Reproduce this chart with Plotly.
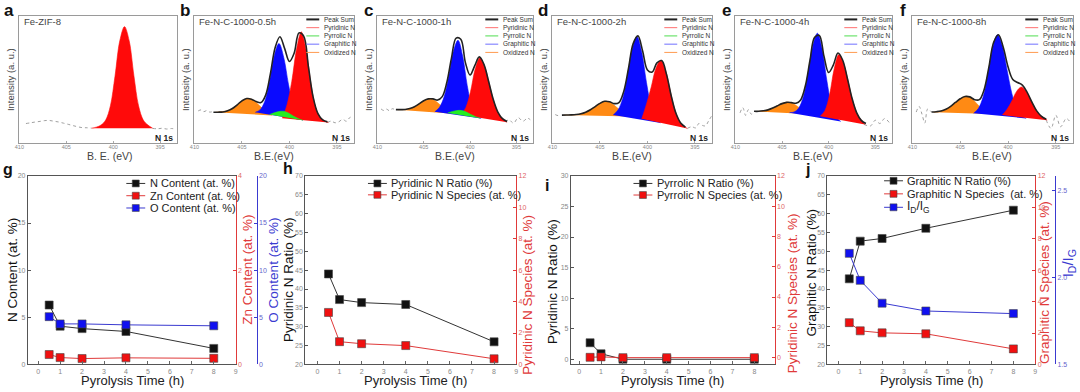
import plotly.graph_objects as go

FONT = "Liberation Sans, Arial, sans-serif"
W, H = 1080, 392

# ====================== XPS N 1s spectra (binding energy eV, intensity a.u.) ======================
a_raw_left_be = [409.3, 408.8, 408.3, 407.8, 407.3, 406.8, 406.3, 405.8, 405.3, 404.8, 404.3, 403.8, 403.3, 402.8, 402.3]
a_raw_left_int = [15.6, 16.2, 16.8, 17.3, 17.9, 18.0, 17.4, 16.8, 15.9, 15.0, 14.0, 13.1, 12.4, 12.3, 12.0]
a_raw_right_be = [395.8, 395.3, 394.8, 394.3, 393.8, 393.4]
a_raw_right_int = [11.8, 11.5, 11.9, 11.3, 11.7, 11.4]
a_pyri_be = [402.3, 401.8, 401.3, 400.8, 400.3, 399.8, 399.3, 398.8, 398.3, 397.8, 397.3, 396.8, 396.3, 395.8]
a_pyri_int = [12.0, 12.8, 14.4, 18.4, 29.5, 53.3, 80.4, 91.5, 80.4, 53.3, 29.5, 18.4, 14.4, 12.0]

oxi_be = [407.8, 407.3, 406.8, 406.3, 405.8, 405.3, 404.8, 404.3, 403.8, 403.3, 402.8, 402.3, 401.8]
sum_be_408 = [408.0, 407.5, 407.0, 406.5, 406.0, 405.5, 405.0, 404.5, 404.0, 403.5, 403.0, 402.5, 402.0,
              401.5, 401.0, 400.5, 400.0, 399.5, 399.0, 398.5, 398.0, 397.5, 397.0, 396.5, 396.0]
sum_be_409 = [409.0, 408.5] + sum_be_408

b_raw_left_be = [409.6, 409.3, 409.0, 408.7, 408.4, 408.1]
b_raw_left_int = [25.5, 26.3, 24.9, 25.8, 24.6, 24.9]
b_raw_right_be = [396.0, 395.6, 395.2, 394.8, 394.4, 394.0, 393.6, 393.3]
b_raw_right_int = [16.4, 17.5, 16.2, 17.0, 18.9, 17.4, 20.5, 19.6]
b_oxi_int = [24.4, 24.8, 25.2, 26.1, 28.4, 31.5, 34.3, 35.3, 33.9, 30.7, 27.2, 24.5, 22.0]
b_gra_be = [403.6, 403.1, 402.6, 402.1, 401.6, 401.1, 400.6, 400.1, 399.6, 399.1, 398.6]
b_gra_int = [24.4, 26.3, 32.9, 48.8, 68.6, 78.3, 67.4, 46.3, 29.1, 21.3, 18.2]
b_pyri_be = [400.75, 400.25, 399.75, 399.25, 398.75, 398.25, 397.75, 397.25, 396.75, 396.25, 395.9]
b_pyri_int = [19.8, 30.4, 48.7, 73.9, 87.4, 73.2, 47.4, 28.3, 20.4, 17.6, 16.4]
b_pyrr_be = [402.1, 401.6, 401.1, 400.6, 400.1, 399.6, 399.1, 398.6]
b_pyrr_int = [22.6, 24.0, 25.0, 25.2, 23.8, 21.5, 19.6, 18.2]
b_sum_int = [24.5, 24.5, 24.7, 25.6, 27.4, 30.3, 33.4, 35.2, 34.7, 32.8, 32.0, 37.9, 54.7,
             75.2, 83.6, 74.3, 64.2, 70.8, 86.6, 84.1, 59.9, 36.1, 23.3, 18.4, 16.9]

c_raw_left_be = [409.6, 409.3, 409.0, 408.7, 408.4, 408.1]
c_raw_left_int = [27.0, 25.8, 26.9, 25.6, 27.2, 26.5]
c_raw_right_be = [396.2, 395.8, 395.3, 394.8, 394.3, 393.8, 393.5]
c_raw_right_int = [16.9, 18.5, 15.9, 20.2, 17.4, 19.8, 18.6]
c_oxi_int = [26.4, 26.5, 26.8, 27.7, 29.5, 32.0, 34.2, 35.0, 33.6, 30.7, 27.5, 25.2, 23.3]
c_gra_be = [403.8, 403.3, 402.8, 402.3, 401.8, 401.3, 400.8, 400.3, 399.8, 399.3, 398.8]
c_gra_int = [24.8, 28.3, 36.5, 52.8, 72.0, 80.8, 68.5, 45.3, 28.6, 21.8, 19.6]
c_pyri_be = [400.95, 400.45, 399.95, 399.45, 398.95, 398.45, 397.95, 397.45, 396.95, 396.45, 396.0]
c_pyri_int = [22.5, 28.2, 40.5, 58.1, 66.9, 60.7, 47.4, 33.1, 23.8, 19.1, 16.6]
c_pyrr_be = [402.4, 401.9, 401.4, 400.9, 400.4, 399.9, 399.4, 398.9]
c_pyrr_int = [23.9, 25.0, 25.8, 25.8, 24.6, 22.6, 21.0, 19.7]
c_sum_int = [26.5, 26.5, 26.6, 27.3, 28.7, 31.0, 33.5, 34.9, 34.9, 34.0, 36.7, 48.0, 67.0,
             82.5, 81.6, 63.3, 53.6, 60.7, 67.8, 62.0, 48.7, 34.6, 24.6, 19.4, 17.2]

d_raw_left_be = [409.7, 409.4, 409.1]
d_raw_left_int = [22.6, 21.8, 22.2]
d_raw_right_be = [395.8, 395.35, 394.9, 394.6, 394.2, 393.9, 393.5, 393.2]
d_raw_right_int = [11.8, 13.1, 12.2, 15.6, 14.1, 13.8, 18.5, 22.1]
d_oxi_be = [408.8, 408.3] + oxi_be
d_oxi_int = [22.2, 22.3, 22.4, 22.8, 23.6, 25.1, 27.4, 30.0, 32.3, 33.0, 31.6, 28.7, 25.5, 23.3, 21.1]
d_gra_be = [403.6, 403.1, 402.6, 402.1, 401.6, 401.1, 400.6, 400.1, 399.6, 399.1, 398.6]
d_gra_int = [22.3, 26.2, 35.3, 53.4, 74.1, 83.6, 71.4, 47.7, 28.5, 19.7, 16.1]
d_pyri_be = [400.6, 400.1, 399.6, 399.1, 398.6, 398.1, 397.6, 397.1, 396.6, 396.1, 395.8]
d_pyri_int = [19.3, 30.8, 44.2, 59.0, 65.1, 57.4, 41.0, 26.0, 17.1, 13.2, 11.7]
d_sum_int = [22.2, 22.3, 22.4, 22.7, 23.3, 24.5, 26.4, 28.9, 31.4, 33.0, 32.7, 31.2, 32.0, 40.6,
             58.5, 78.2, 84.3, 72.2, 57.6, 55.9, 63.1, 64.9, 54.3, 37.4, 23.6, 16.0, 12.8]

e_raw_left_be = [409.5, 409.2, 408.9, 408.6, 408.3, 407.9]
e_raw_left_int = [24.0, 28.0, 22.0, 26.5, 23.0, 25.1]
e_raw_right_be = [396.2, 395.5, 395.0, 394.5, 394.0, 393.5]
e_raw_right_int = [14.9, 13.8, 18.2, 15.6, 19.5, 16.4]
e_oxi_int = [25.0, 25.3, 25.7, 26.7, 28.3, 30.2, 31.8, 32.3, 31.1, 28.8, 26.2, 24.4, 22.8]
e_gra_be = [404.2, 403.7, 403.2, 402.7, 402.2, 401.7, 401.2, 400.7, 400.2, 399.7, 399.2, 398.7]
e_gra_int = [24.1, 24.7, 27.8, 36.9, 55.2, 76.5, 86.3, 73.9, 49.7, 30.1, 21.0, 17.3]
e_pyri_be = [400.9, 400.4, 399.9, 399.4, 398.9, 398.4, 397.9, 397.4, 396.9, 396.4, 396.1]
e_pyri_int = [21.4, 25.7, 38.1, 58.5, 69.6, 62.9, 48.3, 32.7, 22.6, 17.4, 14.9]
e_sum_int = [25.2, 25.2, 25.6, 26.3, 27.7, 29.5, 31.2, 32.2, 32.0, 31.5, 34.1, 45.0, 65.0,
             83.1, 84.6, 68.4, 55.6, 61.4, 70.8, 65.4, 51.3, 35.6, 24.2, 18.1, 15.6]

f_raw_left_be = [409.6, 409.3, 409.0, 408.7, 408.4, 408.0]
f_raw_left_int = [24.6, 29.0, 23.0, 16.0, 27.0, 24.6]
f_raw_right_be = [396.0, 395.5, 395.0, 394.5, 393.9, 393.4]
f_raw_right_int = [18.2, 11.8, 22.1, 13.1, 19.5, 15.6]
f_oxi_int = [24.5, 25.0, 25.8, 27.6, 30.2, 33.3, 36.0, 36.9, 35.2, 31.5, 27.6, 25.0, 23.0]
f_gra_be = [403.6, 403.1, 402.6, 402.1, 401.6, 401.1, 400.6, 400.1, 399.6, 399.1, 398.6, 398.1]
f_gra_int = [23.7, 27.4, 36.5, 54.4, 75.4, 85.2, 76.6, 57.6, 39.2, 27.5, 22.0, 19.6]
f_pyri_be = [400.6, 400.1, 399.6, 399.1, 398.6, 398.1, 397.6, 397.1, 396.6, 396.1, 395.9]
f_pyri_int = [22.2, 26.8, 33.2, 40.8, 44.2, 40.8, 33.9, 26.6, 21.9, 19.4, 18.2]
f_sum_int = [24.7, 24.9, 25.4, 26.8, 29.1, 32.1, 35.0, 36.8, 36.5, 34.3, 34.3, 42.1, 59.8,
             79.3, 85.1, 75.4, 60.1, 50.1, 47.8, 45.7, 40.0, 32.4, 25.5, 21.2, 19.0]

xps_ticks = [410, 405, 400, 395]
xps_legend_labels = ["Peak Sum", "Pyridinic N", "Pyrrolic N", "Graphitic N", "Oxidized N"]

# ====================== composition vs pyrolysis time ======================
time_h = [0.5, 1, 2, 4, 8]
g_N = [6.3, 4.06, 3.8, 3.5, 1.7]
g_Zn = [0.21, 0.146, 0.125, 0.14, 0.13]
g_O = [5.07, 4.3, 4.3, 4.2, 4.1]
h_ratio = [44.0, 37.2, 36.4, 35.9, 26.0]
h_species = [3.31, 1.45, 1.32, 1.20, 0.36]
i_ratio = [2.7, 0.9, 0.0, 0.0, 0.0]
i_species = [0.02, 0.05, 0.0, 0.0, 0.0]
j_ratio = [42.7, 52.7, 53.4, 56.1, 60.9]
j_species = [2.66, 2.14, 2.01, 1.95, 0.99]
j_idig = [2.138, 1.983, 1.852, 1.807, 1.792]
time_ticks = [0, 1, 2, 3, 4, 5, 6, 7, 8, 9]

# ====================== styling ======================
FILL = {"oxi": "#ff8a14", "gra": "#0a0aff", "pyrr": "#22ee22", "pyri": "#ff0a0a"}
LEG_COL = ["#222222", "#ff7070", "#50dd50", "#7070ff", "#ff9a50"]
RED, BLUE = "#e03a3a", "#3a3ad0"


def P(px):
    return px / W


def Q(py):
    return 1 - py / H


def ax_name(kind, n):
    return kind if n == 1 else f"{kind}{n}"


def ref(kind, n):
    return kind if n == 1 else f"{kind}{n}"


fig = go.Figure()
layout = dict(width=W, height=H, margin=dict(l=0, r=0, t=0, b=0), paper_bgcolor="white",
              plot_bgcolor="white", showlegend=False, font=dict(family=FONT))
annotations, shapes = [], []


def ann(text, x, y, size, color="#222", xanchor="center", yanchor="middle", angle=0):
    annotations.append(dict(text=text, x=P(x), y=Q(y), xref="paper", yref="paper", showarrow=False,
                            font=dict(size=size, color=color, family=FONT), xanchor=xanchor,
                            yanchor=yanchor, textangle=angle))


xps_panels = [
    dict(letter="a", title="Fe-ZIF-8", xlabel="B. E. (eV)", L=15, R=174, xl=107,
         raw=[(a_raw_left_be, a_raw_left_int), (a_raw_right_be, a_raw_right_int)],
         peaks=[("pyri", a_pyri_be, a_pyri_int)], total=None, legend=False),
    dict(letter="b", title="Fe-N-C-1000-0.5h", xlabel="B.E.(eV)", L=191, R=352, xl=None,
         raw=[(b_raw_left_be, b_raw_left_int), (b_raw_right_be, b_raw_right_int)],
         peaks=[("oxi", oxi_be, b_oxi_int), ("gra", b_gra_be, b_gra_int), ("pyri", b_pyri_be, b_pyri_int),
                ("pyrr", b_pyrr_be, b_pyrr_int)], total=(sum_be_408, b_sum_int), legend=True),
    dict(letter="c", title="Fe-N-C-1000-1h", xlabel="B.E.(eV)", L=375, R=532, xl=None,
         raw=[(c_raw_left_be, c_raw_left_int), (c_raw_right_be, c_raw_right_int)],
         peaks=[("oxi", oxi_be, c_oxi_int), ("gra", c_gra_be, c_gra_int), ("pyri", c_pyri_be, c_pyri_int),
                ("pyrr", c_pyrr_be, c_pyrr_int)], total=(sum_be_408, c_sum_int), legend=True),
    dict(letter="d", title="Fe-N-C-1000-2h", xlabel="B.E.(eV)", L=551, R=712, xl=None,
         raw=[(d_raw_left_be, d_raw_left_int), (d_raw_right_be, d_raw_right_int)],
         peaks=[("oxi", d_oxi_be, d_oxi_int), ("gra", d_gra_be, d_gra_int), ("pyri", d_pyri_be, d_pyri_int)],
         total=(sum_be_409, d_sum_int), legend=True),
    dict(letter="e", title="Fe-N-C-1000-4h", xlabel="B.E.(eV)", L=735, R=893, xl=None,
         raw=[(e_raw_left_be, e_raw_left_int), (e_raw_right_be, e_raw_right_int)],
         peaks=[("oxi", oxi_be, e_oxi_int), ("gra", e_gra_be, e_gra_int), ("pyri", e_pyri_be, e_pyri_int)],
         total=(sum_be_408, e_sum_int), legend=True),
    dict(letter="f", title="Fe-N-C-1000-8h", xlabel="B.E.(eV)", L=913, R=1075, xl=None,
         raw=[(f_raw_left_be, f_raw_left_int), (f_raw_right_be, f_raw_right_int)],
         peaks=[("oxi", oxi_be, f_oxi_int), ("gra", f_gra_be, f_gra_int), ("pyri", f_pyri_be, f_pyri_int)],
         total=(sum_be_408, f_sum_int), legend=True),
]

TOP, BOT = 12, 142
for n, pnl in enumerate(xps_panels, start=1):
    xr, yr = ref("x", n), ref("y", n)
    L, R = pnl["L"], pnl["R"]
    layout[ax_name("xaxis", n)] = dict(domain=[P(L), P(R)], range=[410.05, 393.2], anchor=yr,
                                       showgrid=False, zeroline=False, showline=True, mirror=True,
                                       linecolor="#9a9a9a", linewidth=1, tickvals=xps_ticks,
                                       ticks="inside", ticklen=2, tickcolor="#aaa", ticklabelstandoff=-2,
                                       tickfont=dict(size=5.5, color="#888", family=FONT))
    layout[ax_name("yaxis", n)] = dict(domain=[Q(BOT), Q(TOP)], range=[0, 100], anchor=xr,
                                       showgrid=False, zeroline=False, showline=True, mirror=True,
                                       linecolor="#9a9a9a", linewidth=1, showticklabels=False, ticks="")
    for be, it in pnl["raw"]:
        fig.add_trace(go.Scatter(x=be, y=it, xaxis=xr, yaxis=yr, mode="lines", hoverinfo="skip",
                                 line=dict(color="#a0a0a0", width=1, dash="dot", shape="spline")))
    for kind, be, it in pnl["peaks"]:
        fig.add_trace(go.Scatter(x=be, y=it, xaxis=xr, yaxis=yr, mode="lines", fill="toself",
                                 fillcolor=FILL[kind], hoverinfo="skip",
                                 line=dict(color=FILL[kind], width=0.6, shape="spline")))
    if pnl["total"] is not None:
        be, it = pnl["total"]
        fig.add_trace(go.Scatter(x=be, y=it, xaxis=xr, yaxis=yr, mode="lines", hoverinfo="skip",
                                 line=dict(color="#222", width=1.6, shape="spline")))
    # texts
    ann(f"<b>{pnl['letter']}</b>", L - 10 if n == 1 else L - 8.5, 6.5, 17, "#111")
    ann(pnl["title"], L + 3, 17.5, 9.5, "#444", xanchor="left")
    ann("<b>N 1s</b>", R - 2, 136.5, 8.5, "#222", xanchor="right")
    ann(pnl["xlabel"], pnl["xl"] if pnl["xl"] else (L + R) / 2, 154.5, 10.5, "#444")
    ann("Intensity (a. u.)", L - 8.5, 77, 9.5, "#444", angle=-90)
    if pnl["legend"]:
        for k, lab in enumerate(xps_legend_labels):
            yy = 15.7 + 8.4 * k
            shapes.append(dict(type="line", xref="paper", yref="paper", x0=P(R - 48), x1=P(R - 35),
                               y0=Q(yy), y1=Q(yy), line=dict(color=LEG_COL[k], width=2 if k == 0 else 1)))
            ann(lab, R - 32.5, yy, 6.5, "#333", xanchor="left")

# bottom row
BT, BB = 175, 367
bottom_panels = [
    dict(letter="g", lpos=(4.5, 168), L=24, R=233, xrng=[-0.47, 9], xt=129,
         axes=[dict(range=[0, 20], dtick=5, color="#555", tcol="#888", title="N Content (at. %)", tx=8, ty=271),
               dict(range=[0, 4], dtick=2, color=RED, tcol="#e06666", title="Zn Content (at. %)", tx=245, ty=271, pos=None),
               dict(range=[0, 20], dtick=5, color=BLUE, tcol="#6666cc", title="O Content (at. %)", tx=271, ty=271, pos=254)],
         series=[(g_N, 0, "#111111", "#333333"), (g_Zn, 1, "#f01010", RED), (g_O, 2, "#1010f0", BLUE)],
         legend=dict(x0=123, ys=[182.7, 195.2, 207.7],
                     labels=["N Content (at. %)", "Zn Content (at. %)", "O Content (at. %)"])),
    dict(letter="h", lpos=(286, 167), L=303, R=515, xrng=[-0.55, 9], xt=414,
         axes=[dict(range=[20, 70], dtick=5, color="#555", tcol="#888", title="Pyridinic N Ratio (%)", tx=285.5, ty=280),
               dict(range=[0, 12], dtick=2, color=RED, tcol="#e06666", title="Pyridinic N Species (at. %)", tx=527, ty=296, pos=None)],
         series=[(h_ratio, 0, "#111111", "#333333"), (h_species, 1, "#f01010", RED)],
         legend=dict(x0=366, ys=[182.7, 194.3],
                     labels=["Pyridinic N Ratio (%)", "Pyridinic N Species (at. %)"])),
    dict(letter="i", lpos=(545.7, 185), L=570, R=775, xrng=[-0.38, 8.93], xt=672,
         axes=[dict(range=[-0.85, 30], dtick=5, color="#555", tcol="#888", title="Pyridinic N Ratio (%)", tx=552, ty=282),
               dict(range=[-0.45, 12], dtick=2, color=RED, tcol="#e06666", title="Pyridinic N Species (at. %)", tx=793, ty=295, pos=None)],
         series=[(i_ratio, 0, "#111111", "#333333"), (i_species, 1, "#f01010", RED)],
         legend=dict(x0=633, ys=[182.7, 194.5],
                     labels=["Pyrrolic N Ratio (%)", "Pyrrolic N Species (at. %)"])),
    dict(letter="j", lpos=(808, 169), L=828, R=1037, xrng=[-0.5, 9], xt=933,
         axes=[dict(range=[20, 70], dtick=5, color="#555", tcol="#888", title="Graphitic N Ratio (%)", tx=812, ty=273),
               dict(range=[0, 12], dtick=2, color=RED, tcol="#e06666", title="Graphitic N Species (at. %)", tx=1047, ty=284, pos=None),
               dict(range=[1.5, 2.583], dtick=0.5, color=BLUE, tcol="#6666cc", title="I<sub>D</sub>/I<sub>G</sub>", tx=1070, ty=264, pos=1057)],
         series=[(j_ratio, 0, "#111111", "#333333"), (j_species, 1, "#f01010", RED), (j_idig, 2, "#1010f0", BLUE)],
         legend=dict(x0=885, ys=[180, 193.3, 207],
                     labels=["Graphitic N Ratio (%)", "Graphitic N Species  (at. %)", "I<sub>D</sub>/I<sub>G</sub>"])),
]

xn, yn = 7, 7
for pnl in bottom_panels:
    xr = ref("x", xn)
    L, R = pnl["L"], pnl["R"]
    base_y = yn
    layout[ax_name("xaxis", xn)] = dict(domain=[P(L), P(R)], range=pnl["xrng"], anchor=ref("y", base_y),
                                        showgrid=False, zeroline=False, showline=True, mirror=True,
                                        linecolor="#555", linewidth=1, tickvals=time_ticks, ticks="inside",
                                        ticklen=3, tickcolor="#666",
                                        tickfont=dict(size=7, color="#888", family=FONT))
    yrefs = []
    for k, a in enumerate(pnl["axes"]):
        yr = ref("y", yn)
        yrefs.append(yr)
        d = dict(range=a["range"], dtick=a["dtick"], showgrid=False, zeroline=False, showline=True,
                 linecolor=a["color"], linewidth=1, ticks="inside", ticklen=3, tickcolor=a["color"],
                 tickfont=dict(size=7, color=a["tcol"], family=FONT))
        if k == 0:
            d.update(domain=[Q(BB), Q(BT)], anchor=xr, side="left")
        else:
            d.update(overlaying=ref("y", base_y), side="right")
            if a.get("pos"):
                d.update(anchor="free", position=P(a["pos"]))
            else:
                d.update(anchor=xr)
        if a["dtick"] == 0.5:
            d.update(tickformat=".1f")
        layout[ax_name("yaxis", yn)] = d
        big = 15 if "sub" in a["title"] else 13.5
        tcolor = "#111" if k == 0 else a["color"]
        ann(a["title"], a["tx"], a["ty"], big, tcolor, angle=-90)
        yn += 1
    for vals, k, mcol, lcol in pnl["series"]:
        fig.add_trace(go.Scatter(x=time_h, y=vals, xaxis=xr, yaxis=yrefs[k], mode="lines+markers",
                                 hoverinfo="skip", line=dict(color=lcol, width=1),
                                 marker=dict(symbol="square", size=8, color=mcol,
                                             line=dict(color="#444", width=0.6))))
    lg = pnl["legend"]
    for (vals, k, mcol, lcol), yy, lab in zip(pnl["series"], lg["ys"], lg["labels"]):
        x0 = lg["x0"]
        shapes.append(dict(type="line", xref="paper", yref="paper", x0=P(x0), x1=P(x0 + 19),
                           y0=Q(yy), y1=Q(yy), line=dict(color=lcol, width=1)))
        shapes.append(dict(type="rect", xref="paper", yref="paper", x0=P(x0 + 6), x1=P(x0 + 13),
                           y0=Q(yy + 3.5), y1=Q(yy - 3.5), fillcolor=mcol, line=dict(color="#444", width=0.6)))
        ann(lab, x0 + 21.5, yy, 12 if "sub" in lab else 11, "#222", xanchor="left")
    ann("Pyrolysis Time (h)", pnl["xt"], 383.5, 13, "#222")
    ann(f"<b>{pnl['letter']}</b>", pnl["lpos"][0], pnl["lpos"][1], 16, "#111")
    xn += 1

layout["annotations"] = annotations
layout["shapes"] = shapes
fig.update_layout(**layout)
fig.write_html("out.html", config={"displayModeBar": False},
               post_script="document.body.style.margin='0px';document.body.style.overflow='hidden';")
